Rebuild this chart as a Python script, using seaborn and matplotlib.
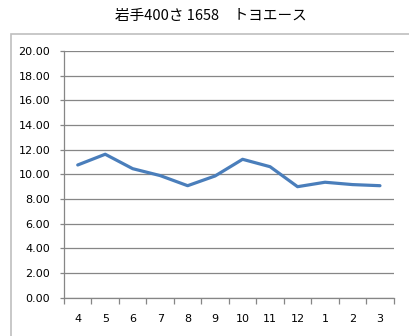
import matplotlib
matplotlib.use("Agg")
import matplotlib.pyplot as plt
import seaborn as sns
import pandas as pd
from matplotlib.patches import Rectangle
from matplotlib.ticker import FixedLocator

months = ["4", "5", "6", "7", "8", "9", "10", "11", "12", "1", "2", "3"]
values = [10.76, 11.63, 10.46, 9.90, 9.08, 9.87, 11.22, 10.62, 9.00, 9.36, 9.17, 9.08]
yticks = [0, 2, 4, 6, 8, 10, 12, 14, 16, 18, 20]
title = "岩手400さ 1658\u3000トヨエース"

sns.set_theme(style="white")
plt.rcParams['font.family'] = ['DejaVu Sans', 'Noto Sans CJK JP']

W, H = 409, 336
fig = plt.figure(figsize=(W / 100, H / 100), dpi=100)
fig.patch.set_facecolor("white")

# chart area border
fig.patches.append(Rectangle((11 / W, -0.02), 1.05, 1 - 34 / H + 0.02,
                             transform=fig.transFigure, fill=False,
                             edgecolor="#BFBFBF", linewidth=1.2, zorder=0))

ax = fig.add_axes([64 / W, 1 - 297.7 / H, (393.7 - 64) / W, (297.7 - 51) / H])
df = pd.DataFrame({"month": months, "value": values})
sns.lineplot(data=df, x="month", y="value", ax=ax, color="#4A7EBB",
             linewidth=2.3, sort=False)

ax.set_xlim(-0.5, len(months) - 0.5)
ax.set_ylim(0, 20)
ax.set_yticks(yticks)
ax.set_yticklabels([f"{v:.2f}" for v in yticks])
ax.set_xticks(range(len(months)))
ax.set_xticklabels(months)
ax.xaxis.set_minor_locator(FixedLocator([i - 0.5 for i in range(len(months) + 1)]))

ax.set_xlabel("")
ax.set_ylabel("")
ax.grid(axis="y", color="#868686", linewidth=0.9)
ax.set_axisbelow(True)
for s in ["top", "right"]:
    ax.spines[s].set_visible(False)
for s in ["left", "bottom"]:
    ax.spines[s].set_color("#868686")
    ax.spines[s].set_linewidth(0.9)

ax.tick_params(axis="y", which="major", length=3, width=0.9, color="#868686",
               left=True, pad=7, labelsize=8, labelcolor="#000000")
ax.tick_params(axis="x", which="major", length=0, pad=12, labelsize=8,
               labelcolor="#000000")
ax.tick_params(axis="x", which="minor", length=4, width=0.9, color="#868686",
               bottom=True, direction="out")

fig.text(210.5 / W, 1 - 16 / H, title, ha="center", va="center", fontsize=10.5,
         family=['Noto Sans CJK JP', 'DejaVu Sans'], color="#000000")

fig.savefig("out.png", dpi=100, facecolor="white")
